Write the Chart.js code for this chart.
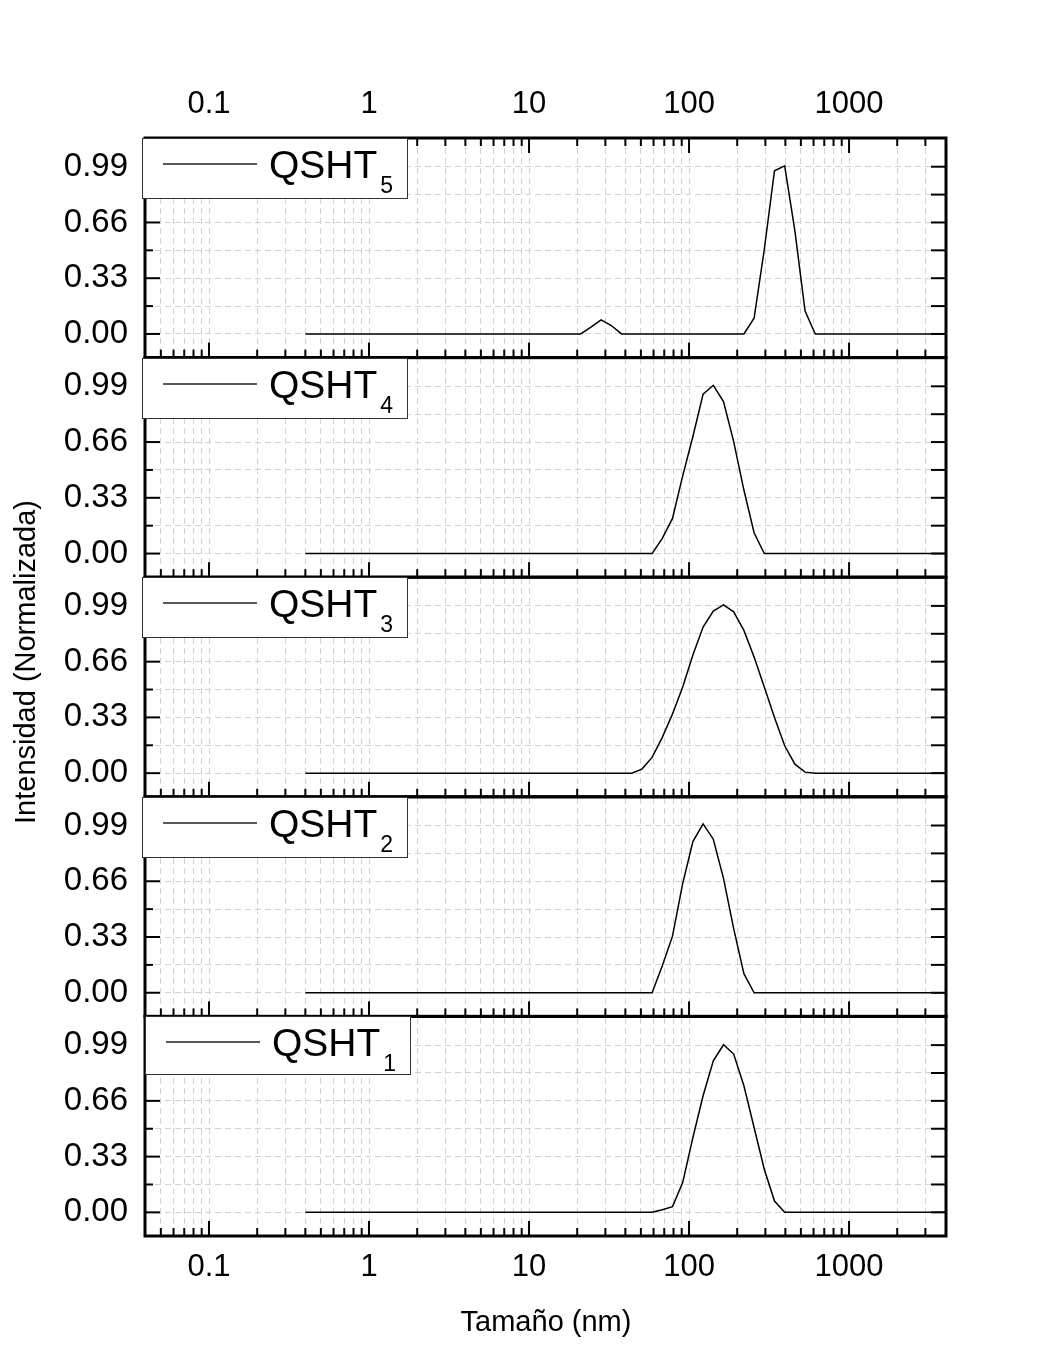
<!DOCTYPE html>
<html>
<head>
<meta charset="utf-8">
<script src="https://cdn.jsdelivr.net/npm/chart.js@4.4.1/dist/chart.umd.min.js"></script>
<style>
  html, body { margin: 0; padding: 0; background: #fff; }
  #chart { display: block; }
</style>
</head>
<body>
<canvas id="chart" width="1041" height="1368"></canvas>
<script>
"use strict";

// size bins (nm)
const sizes = [
    0.4, 0.4632, 0.5365, 0.6213, 0.7195, 0.8332, 0.9649, 1.117, 1.294, 1.499, 1.736, 2.01, 2.328, 2.696, 3.122, 3.615,
    4.187, 4.849, 5.615, 6.503, 7.531, 8.721, 10.1, 11.7, 13.54, 15.69, 18.17, 21.04, 24.36, 28.21, 32.67, 37.84,
    43.82, 50.75, 58.77, 68.06, 78.82, 91.28, 105.7, 122.4, 141.8, 164.2, 190.1, 220.2, 255, 295.3, 342, 396.1,
    458.7, 531.2, 615.1, 712.4, 825, 955.4, 1106, 1281, 1484, 1718, 1990, 2305, 2669, 3091, 3580, 4145
];

// normalized intensity, one array per sample
const qsht5 = [
    0, 0, 0, 0, 0, 0, 0, 0, 0, 0, 0, 0, 0, 0, 0, 0,
    0, 0, 0, 0, 0, 0, 0, 0, 0, 0, 0, 0, 0.04, 0.083, 0.05, 0,
    0, 0, 0, 0, 0, 0, 0, 0, 0, 0, 0, 0, 0.093, 0.5, 0.966, 0.995,
    0.61, 0.135, 0, 0, 0, 0, 0, 0, 0, 0, 0, 0, 0, 0, 0, 0
];
const qsht4 = [
    0, 0, 0, 0, 0, 0, 0, 0, 0, 0, 0, 0, 0, 0, 0, 0,
    0, 0, 0, 0, 0, 0, 0, 0, 0, 0, 0, 0, 0, 0, 0, 0,
    0, 0, 0, 0.09, 0.208, 0.46, 0.693, 0.944, 0.996, 0.9, 0.663, 0.376, 0.123, 0, 0, 0,
    0, 0, 0, 0, 0, 0, 0, 0, 0, 0, 0, 0, 0, 0, 0, 0
];
const qsht3 = [
    0, 0, 0, 0, 0, 0, 0, 0, 0, 0, 0, 0, 0, 0, 0, 0,
    0, 0, 0, 0, 0, 0, 0, 0, 0, 0, 0, 0, 0, 0, 0, 0,
    0, 0.024, 0.093, 0.212, 0.35, 0.51, 0.7, 0.865, 0.96, 0.996, 0.955, 0.845, 0.687, 0.51, 0.33, 0.162,
    0.053, 0.006, 0, 0, 0, 0, 0, 0, 0, 0, 0, 0, 0, 0, 0, 0
];
const qsht2 = [
    0, 0, 0, 0, 0, 0, 0, 0, 0, 0, 0, 0, 0, 0, 0, 0,
    0, 0, 0, 0, 0, 0, 0, 0, 0, 0, 0, 0, 0, 0, 0, 0,
    0, 0, 0, 0.16, 0.335, 0.647, 0.895, 1.0, 0.909, 0.677, 0.38, 0.113, 0, 0, 0, 0,
    0, 0, 0, 0, 0, 0, 0, 0, 0, 0, 0, 0, 0, 0, 0, 0
];
const qsht1 = [
    0, 0, 0, 0, 0, 0, 0, 0, 0, 0, 0, 0, 0, 0, 0, 0,
    0, 0, 0, 0, 0, 0, 0, 0, 0, 0, 0, 0, 0, 0, 0, 0,
    0, 0, 0, 0.015, 0.034, 0.176, 0.443, 0.69, 0.897, 0.992, 0.937, 0.749, 0.502, 0.255, 0.067, 0,
    0, 0, 0, 0, 0, 0, 0, 0, 0, 0, 0, 0, 0, 0, 0, 0
];

// panels from bottom to top
const panelSeries = [qsht1, qsht2, qsht3, qsht4, qsht5];
const panelSubs = ['1', '2', '3', '4', '5'];
const legendBase = 'QSHT';

// ticks
const xMajorTicks = [0.1, 1, 10, 100, 1000];
const yMajorTicks = [0, 0.33, 0.66, 0.99];
const yMinorTicks = [0.165, 0.495, 0.825];
const xTitle = 'Tamaño (nm)';
const yTitle = 'Intensidad (Normalizada)';

const X_MIN = 0.0398;
const X_MAX = 4036;
const Y_MIN = -0.14;
const Y_MAX = 1.16;
const FONT = '"Liberation Sans", Arial, sans-serif';
const GRID = '#d2d2d2';

// minor log ticks: 2..9 of each decade inside the range
const xAllTicks = [];
[0.01, 0.1, 1, 10, 100, 1000].forEach((d) => {
    for (let m = 1; m <= 9; m++) {
        let v = +(d * m).toPrecision(3);
        if (v > X_MIN * 1.02 && v < X_MAX * 0.98) xAllTicks.push(v);
    }
});
const yAllTicks = yMajorTicks.concat(yMinorTicks).sort((a, b) => a - b);

const line = (ctx, x1, y1, x2, y2) => {
    ctx.beginPath();
    ctx.moveTo(x1, y1);
    ctx.lineTo(x2, y2);
    ctx.stroke();
};

// frames, inward ticks, legend boxes, titles
const panelPlugin = {
    id: 'panelPlugin',
    beforeDraw(chart) {
        const ctx = chart.ctx;
        ctx.save();
        ctx.fillStyle = '#fff';
        ctx.fillRect(0, 0, chart.width, chart.height);
        ctx.restore();
    },
    afterDatasetsDraw(chart) {
        const ctx = chart.ctx;
        const xs = chart.scales.x;
        const left = chart.chartArea.left;
        const right = chart.chartArea.right;

        ctx.save();
        ctx.strokeStyle = '#000';
        for (let k = 0; k < panelSeries.length; k++) {
            const ys = chart.scales['y' + (k + 1)];
            const top = ys.top;
            const bottom = ys.bottom;

            // x ticks
            ctx.lineWidth = 2;
            xAllTicks.forEach((v) => {
                let px = xs.getPixelForValue(v);
                let len = xMajorTicks.includes(v) ? 15 : 8;
                line(ctx, px, bottom, px, bottom - len);
                if (k === panelSeries.length - 1) line(ctx, px, top, px, top + len);
            });

            // y ticks
            yAllTicks.forEach((v) => {
                let py = ys.getPixelForValue(v);
                let len = yMajorTicks.includes(v) ? 15 : 8;
                line(ctx, left, py, left + len, py);
                line(ctx, right, py, right - 15, py);
            });

            // frame
            ctx.lineWidth = 3;
            ctx.strokeRect(left, top, right - left, bottom - top);
        }

        // legend boxes
        for (let k = 0; k < panelSeries.length; k++) {
            const ys = chart.scales['y' + (k + 1)];
            let bx = (k === 0) ? 145 : 142;
            let by = Math.round(ys.top);
            let bw = 265;
            let bh = (k === 0) ? 58 : 60;
            ctx.fillStyle = '#fff';
            ctx.fillRect(bx, by, bw, bh);
            ctx.lineWidth = 1;
            ctx.strokeStyle = '#333';
            ctx.strokeRect(bx + 0.5, by + 0.5, bw, bh);

            ctx.strokeStyle = '#222';
            ctx.lineWidth = 1.5;
            line(ctx, bx + 21, by + 26, bx + 115, by + 26);

            ctx.fillStyle = '#000';
            ctx.textAlign = 'left';
            ctx.textBaseline = 'alphabetic';
            ctx.font = '39px ' + FONT;
            ctx.fillText(legendBase, bx + 127, by + 40);
            let w = ctx.measureText(legendBase).width;
            ctx.font = '23px ' + FONT;
            ctx.fillText(panelSubs[k], bx + 127 + w + 3, by + 55);
        }

        // axis titles
        ctx.fillStyle = '#000';
        ctx.font = '29px ' + FONT;
        ctx.textAlign = 'center';
        ctx.textBaseline = 'middle';
        ctx.fillText(xTitle, 546, 1323);
        ctx.translate(27, 662);
        ctx.rotate(-Math.PI / 2);
        ctx.fillText(yTitle, 0, 0);
        ctx.restore();
    }
};

// create scales, the first y scale ends at the bottom of the stack
const scales = {
    x: {
        type: 'logarithmic',
        position: 'bottom',
        min: X_MIN,
        max: X_MAX,
        afterBuildTicks: (s) => { s.ticks = xAllTicks.map((v) => ({ value: v })); },
        afterFit: (s) => { s.height = 132; },
        ticks: {
            autoSkip: false,
            maxRotation: 0,
            padding: 13,
            color: '#000',
            font: { family: FONT, size: 31 },
            callback: (v) => xMajorTicks.includes(v) ? String(v) : ''
        },
        grid: { color: GRID, lineWidth: 1, drawTicks: false },
        border: { display: false, dash: [6, 4] }
    },
    x2: {
        type: 'logarithmic',
        position: 'top',
        min: X_MIN,
        max: X_MAX,
        afterBuildTicks: (s) => { s.ticks = xMajorTicks.map((v) => ({ value: v })); },
        afterFit: (s) => { s.height = 138; },
        ticks: {
            autoSkip: false,
            maxRotation: 0,
            padding: 15,
            color: '#000',
            font: { family: FONT, size: 31 },
            callback: (v) => String(v)
        },
        grid: { display: false, drawTicks: false },
        border: { display: false }
    }
};
panelSeries.forEach((s, k) => {
    scales['y' + (k + 1)] = {
        type: 'linear',
        position: 'left',
        stack: 'panels',
        stackWeight: 1,
        min: Y_MIN,
        max: Y_MAX,
        afterBuildTicks: (sc) => { sc.ticks = yAllTicks.map((v) => ({ value: v })); },
        afterFit: (sc) => { sc.width = 145; },
        ticks: {
            autoSkip: false,
            padding: 17,
            color: '#000',
            font: { family: FONT, size: 33 },
            callback: (v) => yMajorTicks.includes(v) ? v.toFixed(2) : ''
        },
        grid: { color: GRID, lineWidth: 1, drawTicks: false },
        border: { display: false, dash: [6, 4] }
    };
});

// create datasets
const datasets = panelSeries.map((s, k) => ({
    label: legendBase + panelSubs[k],
    data: sizes.map((x, i) => ({ x: x, y: s[i] })),
    xAxisID: 'x',
    yAxisID: 'y' + (k + 1),
    borderColor: '#000',
    borderWidth: 1.5,
    pointRadius: 0,
    fill: false,
    tension: 0
}));

let config = {
    type: 'line',
    data: { datasets: datasets },
    options: {
        responsive: false,
        animation: false,
        devicePixelRatio: 1,
        layout: { padding: { left: 0, right: 95, top: 0, bottom: 0 } },
        plugins: {
            legend: { display: false },
            tooltip: { enabled: false }
        },
        scales: scales
    },
    plugins: [panelPlugin]
};

// create chart
new Chart(document.getElementById('chart'), config);
</script>
</body>
</html>
